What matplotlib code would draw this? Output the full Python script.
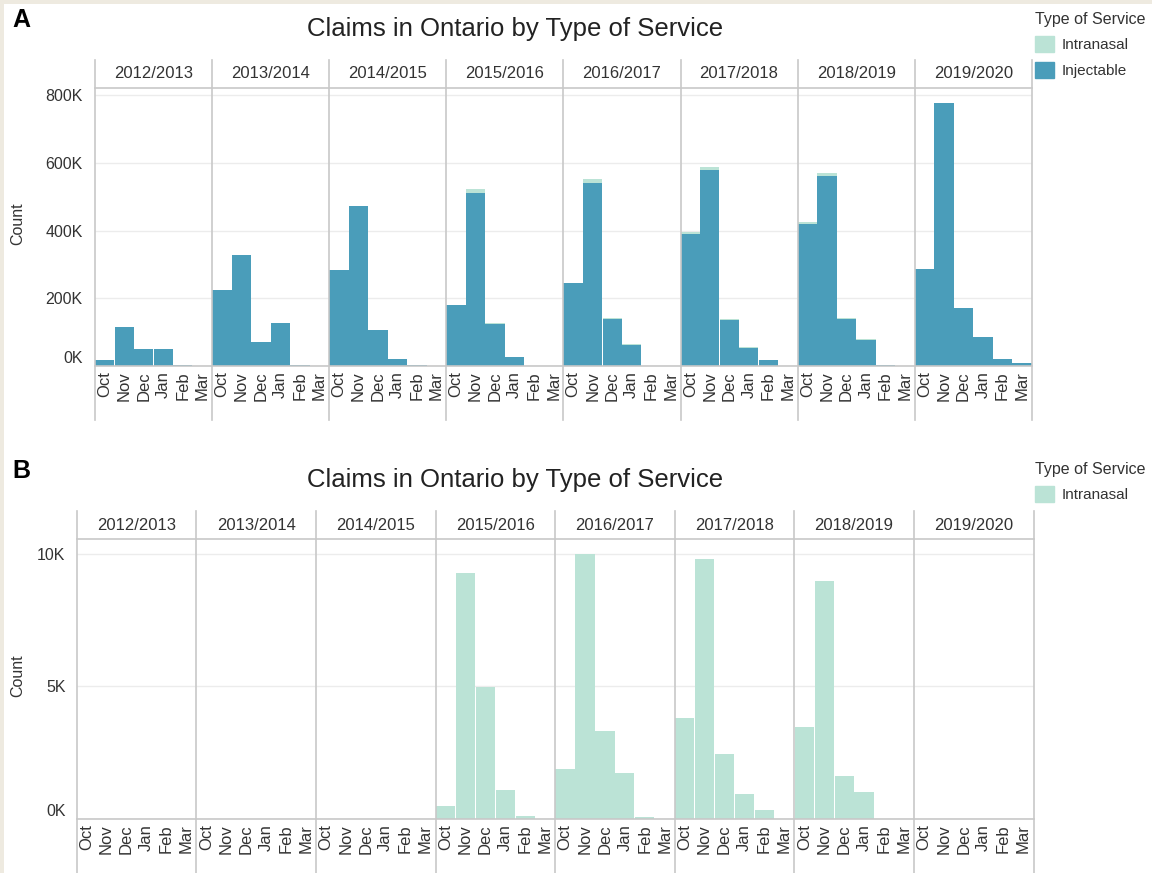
import matplotlib
matplotlib.use("Agg")
from matplotlib import pyplot as plt
from matplotlib.lines import Line2D
from matplotlib.patches import Patch, Rectangle
from matplotlib.ticker import FuncFormatter

plt.rcParams['font.family'] = ['Liberation Sans', 'DejaVu Sans']

W, H = 1152, 873

seasons = ["2012/2013", "2013/2014", "2014/2015", "2015/2016",
           "2016/2017", "2017/2018", "2018/2019", "2019/2020"]
months = ["Oct", "Nov", "Dec", "Jan", "Feb", "Mar"]

# injectable claims per season, Oct..Mar
injectable = [
    [18000, 115000, 50000, 50000, 2000, 0],
    [225000, 328000, 70000, 127000, 2000, 0],
    [284000, 473000, 106000, 20000, 2000, 0],
    [180000, 513000, 123000, 26000, 1000, 0],
    [245000, 542000, 139000, 62000, 1000, 0],
    [391000, 580000, 136000, 54000, 17000, 0],
    [421000, 563000, 139000, 78000, 4000, 0],
    [286000, 779000, 172000, 86000, 22000, 9000],
]

# intranasal claims per season, Oct..Mar
intranasal = [
    [0, 0, 0, 0, 0, 0],
    [0, 0, 0, 0, 0, 0],
    [0, 0, 0, 0, 0, 0],
    [480, 9300, 4980, 1090, 110, 0],
    [1870, 10000, 3300, 1710, 50, 0],
    [3800, 9830, 2450, 940, 310, 0],
    [3470, 9000, 1620, 1020, 0, 0],
    [0, 0, 0, 0, 0, 0],
]

ticks_a = [0, 200000, 400000, 600000, 800000]
ticks_b = [0, 5000, 10000]

BLUE = "#4a9dba"
GREEN = "#bbe3d6"
LINE = "#c8c8c8"
GRID = "#ececec"
TEXT = "#333333"


def fx(px):
    return px / W


def fy(py):
    return 1 - py / H


def vline(fig, x, y0, y1):
    fig.add_artist(Line2D([fx(x), fx(x)], [fy(y0), fy(y1)], color=LINE, lw=1.2))


def hline(fig, x0, x1, y):
    fig.add_artist(Line2D([fx(x0), fx(x1)], [fy(y), fy(y)], color=LINE, lw=1.2))


def draw_panel(fig, letter, left, step, head_top, plot_top, base, bottom,
               ymax, ticks, series, label_pad):
    fig.text(fx(12), fy(head_top - 40), letter, fontsize=18, fontweight="bold",
             ha="left", va="center", color="black")
    fig.text(fx(515), fy(head_top - 31), "Claims in Ontario by Type of Service",
             fontsize=18.5, ha="center", va="center", color="#222222")

    for i, season in enumerate(seasons):
        x0 = left + i * step
        ax = fig.add_axes([fx(x0), fy(base), fx(step), (base - plot_top) / H])
        ax.patch.set_alpha(0)
        bottom_vals = [0] * 6
        for values, color, width in series:
            ax.bar(range(6), values[i], width=width, bottom=bottom_vals,
                   color=color, linewidth=0, zorder=2)
            bottom_vals = [b + v for b, v in zip(bottom_vals, values[i])]
        ax.set_xlim(-0.5, 5.5)
        ax.set_ylim(0, ymax)
        ax.set_yticks(ticks)
        ax.grid(axis="y", color=GRID, lw=1, zorder=0)
        ax.set_xticks(range(6))
        ax.set_xticklabels(months, rotation=90, fontsize=12, color=TEXT)
        ax.tick_params(length=0, pad=4)
        for s in ax.spines.values():
            s.set_visible(False)
        if i == 0:
            ax.yaxis.set_major_formatter(FuncFormatter(lambda v, p: f"{int(v / 1000)}K"))
            ax.tick_params(axis="y", labelsize=11.5, labelcolor=TEXT, pad=label_pad)
            ax.get_yticklabels()[0].set_va("bottom")
        else:
            ax.set_yticklabels([])
        fig.text(fx(x0 + step / 2), fy((head_top + plot_top) / 2), season,
                 fontsize=12, ha="center", va="center", color=TEXT)

    right = left + 8 * step
    for i in range(9):
        vline(fig, left + i * step, head_top, bottom)
    hline(fig, left, right, plot_top)
    hline(fig, left, right, base)
    fig.text(fx(18), fy((plot_top + base) / 2 - 3), "Count", rotation=90,
             fontsize=11.5, ha="center", va="center", color=TEXT)


def add_legend(fig, handles, top):
    leg = fig.legend(handles=handles, title="Type of Service", loc="upper left",
                     bbox_to_anchor=(fx(1032), fy(top)), frameon=False, fontsize=11,
                     title_fontsize=11.5, alignment="left", handlelength=1.25,
                     handleheight=1.25, handletextpad=0.5, labelspacing=0.6,
                     borderaxespad=0, borderpad=0.2)
    for t in leg.get_texts():
        t.set_color(TEXT)
    leg.get_title().set_color(TEXT)


fig = plt.figure(figsize=(W / 100, H / 100), dpi=100)
fig.patch.set_facecolor("#eeeae0")
fig.patches.append(Rectangle((fx(4), 0), 1 - fx(4), fy(4), transform=fig.transFigure,
                             facecolor="white", edgecolor="none", zorder=-5))

# panel A: injectable with intranasal stacked on top
draw_panel(fig, "A", 95, 117.1, 60, 88, 366, 420, 822000, ticks_a,
           [(injectable, BLUE, 0.99), (intranasal, GREEN, 0.99)], 9)
# panel B: intranasal only
draw_panel(fig, "B", 76.7, 119.6, 511, 539, 818.5, 873, 10570, ticks_b,
           [(intranasal, GREEN, 0.96)], 8)

add_legend(fig, [Patch(color=GREEN, label="Intranasal"),
                 Patch(color=BLUE, label="Injectable")], 9)
add_legend(fig, [Patch(color=GREEN, label="Intranasal")], 459)

fig.savefig("out.png", dpi=100, facecolor=fig.get_facecolor())
plt.close()
